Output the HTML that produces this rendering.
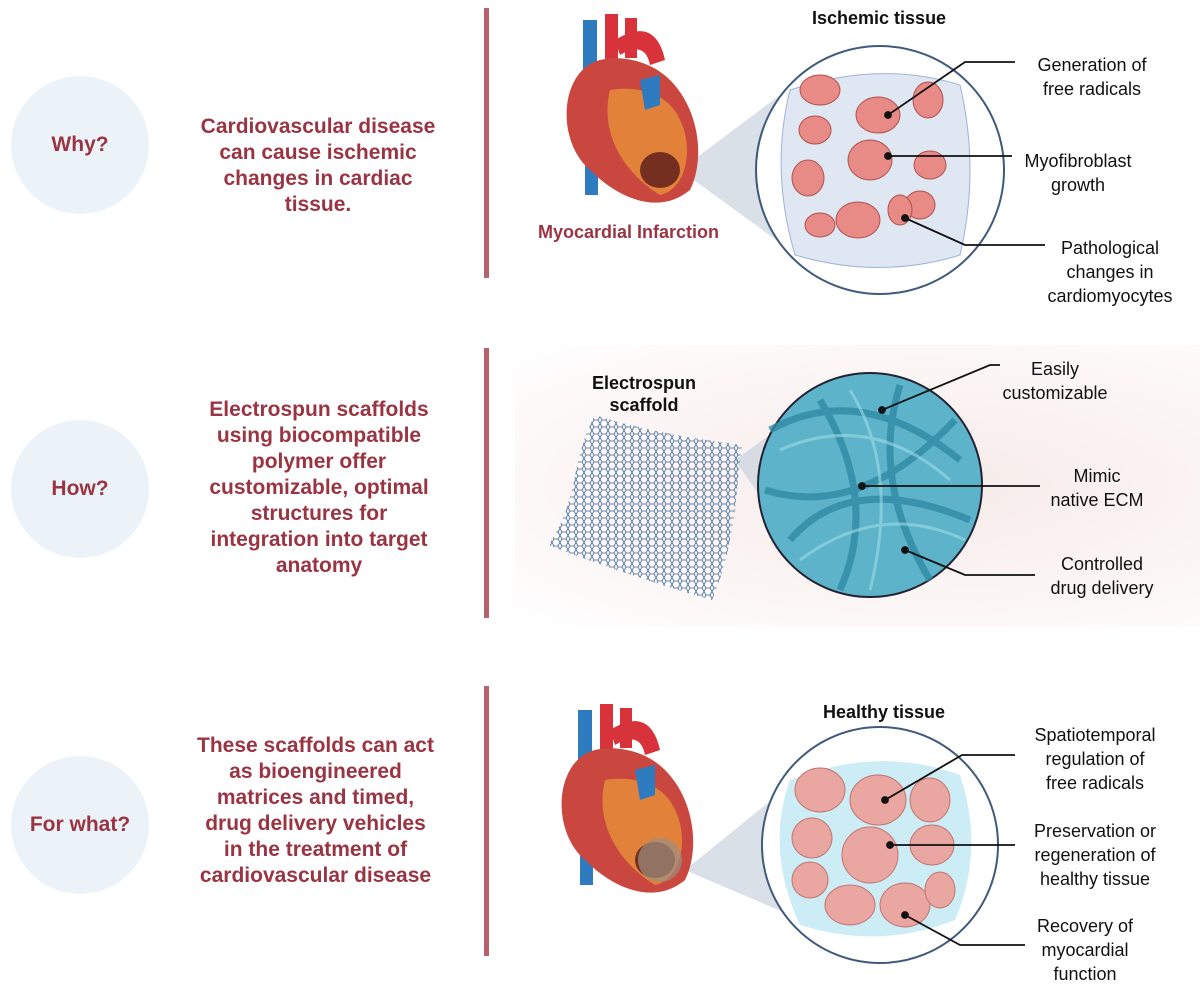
<!DOCTYPE html>
<html><head><meta charset="utf-8"><style>
body{margin:0;width:1200px;height:995px;background:#fff;position:relative;overflow:hidden;font-family:"Liberation Sans",sans-serif}
.c{position:absolute;width:138px;height:138px;border-radius:50%;background:#ebf3f9;color:#9b3442;font-weight:bold;font-size:21px;display:flex;align-items:center;justify-content:center}
.t{position:absolute;color:#9b3442;font-weight:bold;font-size:21px;line-height:26px;text-align:center;width:260px}
.bar{position:absolute;left:484px;width:5px;background:#b8606c}
.l{position:absolute;font-size:18px;line-height:24px;text-align:center;color:#111}
.h{position:absolute;font-size:18px;font-weight:bold;color:#111}
</style></head><body>
<div style="position:absolute;left:515px;top:345px;width:685px;height:282px;background:radial-gradient(ellipse at 60% 50%,#f6ebe9 0%,#fbf5f4 55%,#fff 100%)"></div>
<div class="c" style="left:11px;top:76px">Why?</div>
<div class="c" style="left:11px;top:420px">How?</div>
<div class="c" style="left:11px;top:756px">For what?</div>
<div class="t" style="left:188px;top:114px">Cardiovascular disease can cause ischemic changes in cardiac tissue.</div>
<div class="t" style="left:199px;top:397px;width:240px">Electrospun scaffolds using biocompatible polymer offer customizable, optimal structures for integration into target anatomy</div>
<div class="t" style="left:193px;top:733px;width:245px">These scaffolds can act as bioengineered matrices and timed, drug delivery vehicles in the treatment of cardiovascular disease</div>
<div class="bar" style="top:8px;height:270px"></div>
<div class="bar" style="top:348px;height:270px"></div>
<div class="bar" style="top:686px;height:270px"></div>
<svg style="position:absolute;left:0;top:0" width="1200" height="995">
<defs>
<pattern id="hx" width="8" height="7" patternUnits="userSpaceOnUse"><path d="M0 3.5 L2 0 L6 0 L8 3.5 L6 7 L2 7 Z" fill="none" stroke="#3d6a9e" stroke-width="0.8"/></pattern>
</defs>
<polygon points="680,170 780,95 790,250" fill="#c9d3de" opacity="0.7"/>
<polygon points="735,460 790,420 790,540" fill="#c9d3de" opacity="0.7"/>
<polygon points="685,870 790,785 790,915" fill="#c9d3de" opacity="0.7"/>
<g id="heart">
<rect x="583" y="20" width="14" height="60" fill="#2f7bc0"/>
<rect x="605" y="14" width="13" height="45" fill="#d8333a"/>
<rect x="625" y="18" width="12" height="40" fill="#d8333a"/>
<path d="M615 40 q40 -25 50 20 l-15 5 q-5 -25 -30 -10z" fill="#d8333a"/>
<rect x="585" y="150" width="13" height="45" fill="#2f7bc0"/>
<path d="M600 60 C560 70 555 140 590 170 C620 200 660 215 690 190 C705 160 700 110 670 80 C650 60 620 55 600 60Z" fill="#c9473f"/>
<path d="M610 90 C600 130 620 170 660 195 C685 190 695 150 680 120 C670 95 640 85 610 90Z" fill="#e8913a" opacity="0.8"/>
<ellipse cx="660" cy="170" rx="20" ry="18" fill="#5a1a1a" opacity="0.8"/>
<path d="M640 80 l20 -5 l0 30 l-15 5z" fill="#2f7bc0"/>
</g>
<use href="#heart" transform="translate(-5,690)"/>
<ellipse cx="660" cy="860" rx="22" ry="22" fill="#9c8e80" opacity="0.7"/>
<path d="M548 545 C580 500 570 460 595 415 C640 430 700 440 742 445 C735 500 735 545 712 600 C660 585 600 565 548 545Z" fill="url(#hx)"/>
<circle cx="880" cy="170" r="124" fill="#fff" stroke="#3f5a7a" stroke-width="2"/>
<path d="M790 90 Q880 60 960 85 Q980 170 960 255 Q880 280 795 255 Q770 170 790 90Z" fill="#dfe7f3" stroke="#9fb3d6"/>
<g fill="#e88a86" stroke="#b0504e">
<ellipse cx="820" cy="90" rx="20" ry="15"/><ellipse cx="878" cy="115" rx="22" ry="18"/><ellipse cx="928" cy="100" rx="15" ry="18"/>
<ellipse cx="815" cy="130" rx="16" ry="14"/><ellipse cx="870" cy="160" rx="22" ry="20"/><ellipse cx="930" cy="165" rx="16" ry="14"/>
<ellipse cx="808" cy="178" rx="16" ry="18"/><ellipse cx="920" cy="205" rx="15" ry="14"/><ellipse cx="858" cy="220" rx="22" ry="18"/><ellipse cx="900" cy="210" rx="12" ry="15"/><ellipse cx="820" cy="225" rx="15" ry="12"/>
</g>
<circle cx="870" cy="485" r="112" fill="#5db3c9" stroke="#223" stroke-width="2"/>
<g fill="none" stroke="#2f8aa4" stroke-width="7" opacity="0.8">
<path d="M770 430 Q860 380 960 460"/><path d="M790 540 Q850 470 970 520"/><path d="M820 400 Q880 500 840 590"/><path d="M900 385 Q870 480 930 580"/><path d="M765 490 Q860 520 955 420"/>
</g>
<g fill="none" stroke="#9fdbe8" stroke-width="3" opacity="0.6">
<path d="M780 450 Q870 410 950 480"/><path d="M800 560 Q880 500 965 540"/><path d="M850 390 Q900 470 870 590"/>
</g>
<circle cx="880" cy="845" r="118" fill="#fff" stroke="#3f5a7a" stroke-width="2"/>
<path d="M790 780 Q880 745 960 775 Q985 850 955 920 Q880 950 800 925 Q765 850 790 780Z" fill="#ccecf6"/>
<g fill="#eaa6a0" stroke="#c07570">
<ellipse cx="820" cy="790" rx="25" ry="22"/><ellipse cx="878" cy="800" rx="28" ry="25"/><ellipse cx="930" cy="800" rx="20" ry="22"/>
<ellipse cx="812" cy="838" rx="20" ry="20"/><ellipse cx="870" cy="855" rx="28" ry="28"/><ellipse cx="932" cy="845" rx="22" ry="20"/>
<ellipse cx="810" cy="880" rx="18" ry="18"/><ellipse cx="850" cy="905" rx="25" ry="20"/><ellipse cx="905" cy="905" rx="25" ry="22"/><ellipse cx="940" cy="890" rx="15" ry="18"/>
</g>
<g stroke="#111" stroke-width="1.8" fill="none">
<path d="M888 115 L965 62 L1015 62"/><circle cx="888" cy="115" r="3" fill="#111"/>
<path d="M888 156 L1012 156"/><circle cx="888" cy="156" r="3" fill="#111"/>
<path d="M905 218 L965 245 L1045 245"/><circle cx="905" cy="218" r="3" fill="#111"/>
<path d="M882 410 L990 365 L1000 365"/><circle cx="882" cy="410" r="3" fill="#111"/>
<path d="M862 486 L1040 486"/><circle cx="862" cy="486" r="3" fill="#111"/>
<path d="M905 550 L965 575 L1035 575"/><circle cx="905" cy="550" r="3" fill="#111"/>
<path d="M885 800 L962 755 L1015 755"/><circle cx="885" cy="800" r="3" fill="#111"/>
<path d="M890 845 L1015 845"/><circle cx="890" cy="845" r="3" fill="#111"/>
<path d="M905 915 L960 945 L1025 945"/><circle cx="905" cy="915" r="3" fill="#111"/>
</g>
</svg>
<div class="h" style="left:812px;top:8px">Ischemic tissue</div>
<div class="h" style="left:823px;top:702px">Healthy tissue</div>
<div class="h" style="left:592px;top:372px;text-align:center;line-height:22px">Electrospun<br>scaffold</div>
<div style="position:absolute;left:538px;top:222px;color:#9b3442;font-weight:bold;font-size:18px">Myocardial Infarction</div>
<div class="l" style="left:1027px;top:53px;width:130px">Generation of<br>free radicals</div>
<div class="l" style="left:1013px;top:149px;width:130px">Myofibroblast<br>growth</div>
<div class="l" style="left:1040px;top:236px;width:140px">Pathological<br>changes in<br>cardiomyocytes</div>
<div class="l" style="left:995px;top:357px;width:120px">Easily<br>customizable</div>
<div class="l" style="left:1037px;top:464px;width:120px">Mimic<br>native ECM</div>
<div class="l" style="left:1037px;top:552px;width:130px">Controlled<br>drug delivery</div>
<div class="l" style="left:1015px;top:723px;width:160px">Spatiotemporal<br>regulation of<br>free radicals</div>
<div class="l" style="left:1015px;top:819px;width:160px">Preservation or<br>regeneration of<br>healthy tissue</div>
<div class="l" style="left:1025px;top:914px;width:120px">Recovery of<br>myocardial<br>function</div>
</body></html>
